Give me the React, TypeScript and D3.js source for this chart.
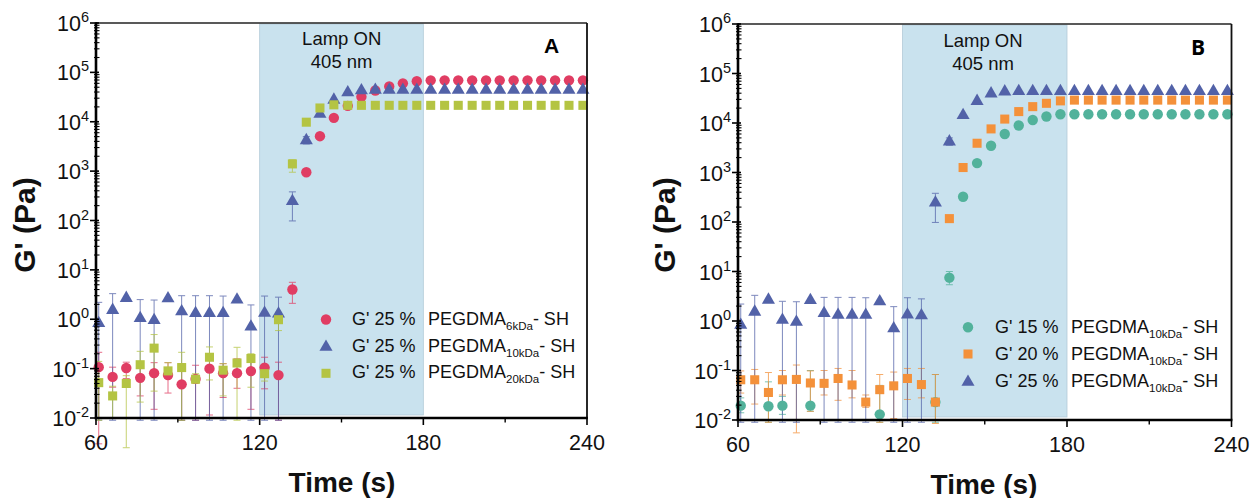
import React from 'react';
import * as d3 from 'd3';

// ---- data ----
const times = [61.0, 66.1, 71.1, 76.2, 81.3, 86.4, 91.4, 96.5, 101.6, 106.6, 111.7, 116.8, 121.8, 126.9, 132.0, 137.1, 142.1, 147.2, 152.3, 157.3, 162.4, 167.5, 172.5, 177.6, 182.7, 187.8, 192.8, 197.9, 203.0, 208.0, 213.1, 218.2, 223.2, 228.3, 233.4, 238.5];

const xTicks = [60, 120, 180, 240];
const xMinorTicks = [90, 150, 210];
const yExponents = [-2, -1, 0, 1, 2, 3, 4, 5, 6];

// Panel A: 25 % PEGDMA 6kDa
const g6kDa = [0.107, 0.068, 0.103, 0.065, 0.081, 0.074, 0.048, 0.062, 0.100, 0.081, 0.081, 0.089, 0.105, 0.074, 4.0, 950, 5100, 12000, 21000, 32000, 43000, 52000, 60000, 66000, 69000, 69000, 69000, 69000, 69000, 69000, 69000, 69000, 69000, 69000, 69000, 69000];
const g6kDaHi = [0.214, 0.107, 0.135, 0.129, 0.132, 0.132, 0.126, 0.117, 0.158, 0.126, 0.158, 0.158, 0.17, 0.135, 5.6, null, null, null, null, null, null, null, null, null, null, null, null, null, null, null, null, null, null, null, null, null];
const g6kDaLo = [0.003, 0.042, 0.063, 0.028, 0.015, 0.032, 0.009, 0.009, 0.0115, 0.026, 0.04, 0.015, 0.039, 0.009, 2.1, null, null, null, null, null, null, null, null, null, null, null, null, null, null, null, null, null, null, null, null, null];

// 25 % PEGDMA 10kDa (shown in both panels)
const g10kDa25 = [0.87, 1.6, 2.8, 1.1, 1.0, 2.75, 1.5, 1.38, 1.38, 1.38, 2.6, 0.74, 1.4, 1.35, 257, 4400, 15000, 29000, 41000, 45000, 46000, 46000, 46000, 46000, 46000, 46000, 46000, 46000, 46000, 46000, 46000, 46000, 46000, 46000, 46000, 46000];
const g10kDa25Hi = [2.2, 3.3, null, 2.5, 2.45, null, 3.0, 3.0, 3.0, 2.95, null, 1.95, 2.95, 2.8, 380, 5000, null, null, null, null, null, null, null, null, null, null, null, null, null, null, null, null, null, null, null, null];
const g10kDa25Lo = [0.009, 0.009, null, 0.009, 0.009, null, 0.009, 0.009, 0.009, 0.009, null, 0.009, 0.009, 0.009, 98, 3550, null, null, null, null, null, null, null, null, null, null, null, null, null, null, null, null, null, null, null, null];

// Panel A: 25 % PEGDMA 20kDa
const g20kDa = [0.052, 0.028, 0.05, 0.12, 0.26, 0.09, 0.105, 0.061, 0.17, 0.093, 0.13, 0.16, 0.079, 0.98, 1400, 9800, 19000, 22000, 21500, 21500, 21500, 21500, 21500, 21500, 21500, 21500, 21500, 21500, 21500, 21500, 21500, 21500, 21500, 21500, 21500, 21500];
const g20kDaHi = [0.14, 0.044, 0.072, 0.224, 0.49, 0.132, 0.214, 0.079, 0.275, 0.126, 0.27, 0.2, 0.112, 1.38, 1700, null, null, null, null, null, null, null, null, null, null, null, null, null, null, null, null, null, null, null, null, null];
const g20kDaLo = [0.009, 0.0102, 0.0025, 0.021, 0.035, 0.063, 0.009, 0.05, 0.059, 0.028, 0.009, 0.042, 0.056, 0.59, 950, null, null, null, null, null, null, null, null, null, null, null, null, null, null, null, null, null, null, null, null, null];

// Panel B: 15 % PEGDMA 10kDa
const g10kDa15 = [0.0195, null, 0.019, 0.0195, null, 0.0195, null, null, null, null, 0.013, null, null, null, 0.023, 7.5, 324, 1550, 3470, 6000, 8900, 11500, 13500, 15000, 15000, 15000, 15000, 15000, 15000, 15000, 15000, 15000, 15000, 15000, 15000, 15000];
const g10kDa15Hi = [0.028, null, 0.059, 0.03, null, 0.1, null, null, null, null, 0.05, null, null, null, 0.083, 10, null, null, null, null, null, null, null, null, null, null, null, null, null, null, null, null, null, null, null, null];
const g10kDa15Lo = [0.014, null, 0.009, 0.013, null, 0.015, null, null, null, null, 0.009, null, null, null, 0.009, 5.4, null, null, null, null, null, null, null, null, null, null, null, null, null, null, null, null, null, null, null, null];

// Panel B: 20 % PEGDMA 10kDa
const g10kDa20 = [0.065, 0.065, 0.036, 0.065, 0.066, 0.056, 0.055, 0.069, 0.051, 0.023, 0.041, 0.049, 0.069, 0.052, 0.023, 117, 1260, 3900, 7600, 12000, 17000, 21400, 25000, 28000, 29000, 29000, 29000, 29000, 29000, 29000, 29000, 29000, 29000, 29000, 29000, 29000];
const g10kDa20Hi = [0.098, 0.105, 0.091, 0.1, 0.129, 0.098, 0.1, 0.11, 0.1, 0.032, 0.083, 0.093, 0.11, 0.11, 0.083, null, null, null, null, null, null, null, null, null, null, null, null, null, null, null, null, null, null, null, null, null];
const g10kDa20Lo = [0.035, 0.021, 0.009, 0.032, 0.0055, 0.015, 0.032, 0.025, 0.028, 0.018, 0.009, 0.0107, 0.026, 0.028, 0.0085, null, null, null, null, null, null, null, null, null, null, null, null, null, null, null, null, null, null, null, null, null];

const legendA = [
  { pct: "G' 25 %", sub: '6kDa' },
  { pct: "G' 25 %", sub: '10kDa' },
  { pct: "G' 25 %", sub: '20kDa' },
];
const legendB = [
  { pct: "G' 15 %", sub: '10kDa' },
  { pct: "G' 20 %", sub: '10kDa' },
  { pct: "G' 25 %", sub: '10kDa' },
];

// ---- styling ----
const FONT = "'Liberation Sans', Arial, Helvetica, sans-serif";
const C_RED = '#e03d63';
const C_BLUE = '#5262a8';
const C_GREEN = '#b4c443';
const C_TEAL = '#52b29b';
const C_ORANGE = '#f4913a';
const C_SHADE = '#c9e2ee';

type Shape = 'circle' | 'triangle' | 'square';
interface Series {
  values: (number | null)[];
  hi: (number | null)[];
  lo: (number | null)[];
  color: string;
  shape: Shape;
}

function Marker({ shape, x, y, color }: { shape: Shape; x: number; y: number; color: string }) {
  if (shape === 'circle') return <circle cx={x} cy={y} r={5.2} fill={color} />;
  const sym = d3
    .symbol()
    .type(shape === 'triangle' ? d3.symbolTriangle : d3.symbolSquare)
    .size(shape === 'triangle' ? 74 : 82);
  return <path d={sym() as string} transform={`translate(${x},${y + (shape === 'triangle' ? 1 : 0)})`} fill={color} />;
}

interface PanelProps {
  x0: number; x1: number; yTop: number; yBot: number;
  series: Series[];
  legend: { pct: string; sub: string }[];
  legMarkX: number; legMarkY: number[]; legTextX: number; legPegX: number; legBase: number[];
  lampX: number; lampY: number[];
  letter: string; letterX: number; letterY: number; letterFont: string;
  yTitleX: number; yTitleY: number; xTitleX: number; xTitleY: number;
}

function Panel(p: PanelProps) {
  const x = d3.scaleLinear().domain([60, 240]).range([p.x0, p.x1]);
  const y = d3.scaleLog().domain([0.01, 1e6]).range([p.yBot, p.yTop]);
  const minor: number[] = [];
  for (let k = -2; k < 6; k++) for (let m = 2; m <= 9; m++) minor.push(m * Math.pow(10, k));

  return (
    <g>
      {/* shaded lamp region */}
      <rect x={x(120)} y={p.yTop + 1} width={x(180) - x(120)} height={p.yBot - p.yTop - 4} fill={C_SHADE} stroke="#b3cbd8" strokeWidth={0.8} />
      <text x={p.lampX} y={p.lampY[0]} textAnchor="middle" fontFamily={FONT} fontSize={18.5} fill="#111">Lamp ON</text>
      <text x={p.lampX} y={p.lampY[1]} textAnchor="middle" fontFamily={FONT} fontSize={18.5} fill="#111">405 nm</text>

      {/* error bars */}
      {p.series.map((s, si) => (
        <g key={'e' + si} stroke={s.color} strokeWidth={1} opacity={0.75}>
          {times.map((t, i) => {
            const hi = s.hi[i];
            const lo = s.lo[i];
            if (hi == null || lo == null) return null;
            const cx = x(t);
            return (
              <g key={i}>
                <line x1={cx} x2={cx} y1={y(hi)} y2={y(lo)} />
                <line x1={cx - 3.5} x2={cx + 3.5} y1={y(hi)} y2={y(hi)} />
                <line x1={cx - 3.5} x2={cx + 3.5} y1={y(lo)} y2={y(lo)} />
              </g>
            );
          })}
        </g>
      ))}

      {/* markers */}
      {p.series.map((s, si) => (
        <g key={'m' + si}>
          {times.map((t, i) => {
            const v = s.values[i];
            if (v == null) return null;
            return <Marker key={i} shape={s.shape} x={x(t)} y={y(v)} color={s.color} />;
          })}
        </g>
      ))}

      {/* frame */}
      <line x1={p.x0} x2={p.x1} y1={p.yTop} y2={p.yTop} stroke="#222" strokeWidth={1.6} />
      <line x1={p.x1} x2={p.x1} y1={p.yTop} y2={p.yBot} stroke="#111" strokeWidth={1.8} />
      <line x1={p.x0} x2={p.x0} y1={p.yTop - 0.8} y2={p.yBot + 1.2} stroke="#000" strokeWidth={2.6} />
      <line x1={p.x0 - 1.2} x2={p.x1 + 0.9} y1={p.yBot} y2={p.yBot} stroke="#000" strokeWidth={2.6} />

      {/* y ticks */}
      {yExponents.map((e) => {
        const v = Math.pow(10, e);
        const yy = y(v);
        return (
          <g key={'y' + e}>
            <line x1={p.x0 - 6} x2={p.x0 + 3} y1={yy} y2={yy} stroke="#000" strokeWidth={1.6} />
            <text x={p.x0 - 7} y={yy + 8} textAnchor="end" fontFamily={FONT} fontSize={21.5} fill="#111">
              10<tspan dy={-9} fontSize={14.5}>{e < 0 ? '-' + Math.abs(e) : String(e)}</tspan>
            </text>
          </g>
        );
      })}
      {minor.map((v, i) => (
        <line key={'ym' + i} x1={p.x0 - 2} x2={p.x0 + 3.5} y1={y(v)} y2={y(v)} stroke="#000" strokeWidth={1.1} />
      ))}

      {/* x ticks */}
      {xTicks.map((t) => (
        <g key={'x' + t}>
          <line x1={x(t)} x2={x(t)} y1={p.yBot} y2={p.yBot + 7} stroke="#000" strokeWidth={1.6} />
          <text x={x(t)} y={p.yBot + 32} textAnchor="middle" fontFamily={FONT} fontSize={21.5} fill="#111">{t}</text>
        </g>
      ))}
      {xMinorTicks.map((t) => (
        <line key={'xm' + t} x1={x(t)} x2={x(t)} y1={p.yBot} y2={p.yBot + 4.5} stroke="#000" strokeWidth={1.4} />
      ))}

      {/* axis titles */}
      <text x={p.xTitleX} y={p.xTitleY} textAnchor="middle" fontFamily={FONT} fontWeight="bold" fontSize={28} fill="#111">Time (s)</text>
      <text transform={`translate(${p.yTitleX},${p.yTitleY}) rotate(-90)`} textAnchor="middle" fontFamily={FONT} fontWeight="bold" fontSize={30} fill="#111">G' (Pa)</text>

      {/* panel letter */}
      <text x={p.letterX} y={p.letterY} textAnchor="middle" fontFamily={p.letterFont} fontWeight="bold" fontSize={21} fill="#000">{p.letter}</text>

      {/* legend */}
      {p.legend.map((l, i) => (
        <g key={'l' + i}>
          <Marker shape={p.series[i].shape} x={p.legMarkX} y={p.legMarkY[i]} color={p.series[i].color} />
          <text x={p.legTextX} y={p.legBase[i]} fontFamily={FONT} fontSize={18} fill="#111">{l.pct}</text>
          <text x={p.legPegX} y={p.legBase[i]} fontFamily={FONT} fontSize={18} fill="#111">
            PEGDMA<tspan dy={5} fontSize={11.5}>{l.sub}</tspan><tspan dy={-5}>- SH</tspan>
          </text>
        </g>
      ))}
    </g>
  );
}

export default function App() {
  const seriesA: Series[] = [
    { values: g6kDa, hi: g6kDaHi, lo: g6kDaLo, color: C_RED, shape: 'circle' },
    { values: g10kDa25, hi: g10kDa25Hi, lo: g10kDa25Lo, color: C_BLUE, shape: 'triangle' },
    { values: g20kDa, hi: g20kDaHi, lo: g20kDaLo, color: C_GREEN, shape: 'square' },
  ];
  const seriesB: Series[] = [
    { values: g10kDa15, hi: g10kDa15Hi, lo: g10kDa15Lo, color: C_TEAL, shape: 'circle' },
    { values: g10kDa20, hi: g10kDa20Hi, lo: g10kDa20Lo, color: C_ORANGE, shape: 'square' },
    { values: g10kDa25, hi: g10kDa25Hi, lo: g10kDa25Lo, color: C_BLUE, shape: 'triangle' },
  ];
  return (
    <svg width={1252} height={498} style={{ position: 'absolute', left: 0, top: 0, background: '#fff' }}>
      <rect width={1252} height={498} fill="#fff" />
      <Panel
        x0={96} x1={587} yTop={23} yBot={418}
        series={seriesA} legend={legendA}
        legMarkX={326} legMarkY={[319.5, 346, 373.3]} legTextX={352} legPegX={428} legBase={[325, 351.7, 378.3]}
        lampX={341.7} lampY={[45, 68]}
        letter="A" letterX={551.7} letterY={53.3} letterFont={FONT}
        yTitleX={35} yTitleY={225} xTitleX={342} xTitleY={491.5}
      />
      <Panel
        x0={738} x1={1231.5} yTop={24} yBot={420}
        series={seriesB} legend={legendB}
        legMarkX={968} legMarkY={[327.3, 354, 381]} legTextX={995} legPegX={1071} legBase={[333, 360, 386.7]}
        lampX={983} lampY={[46.7, 70]}
        letter="B" letterX={1198} letterY={55} letterFont={"'Open Sans', 'DejaVu Sans', sans-serif"}
        yTitleX={675} yTitleY={225} xTitleX={984} xTitleY={493.5}
      />
    </svg>
  );
}
